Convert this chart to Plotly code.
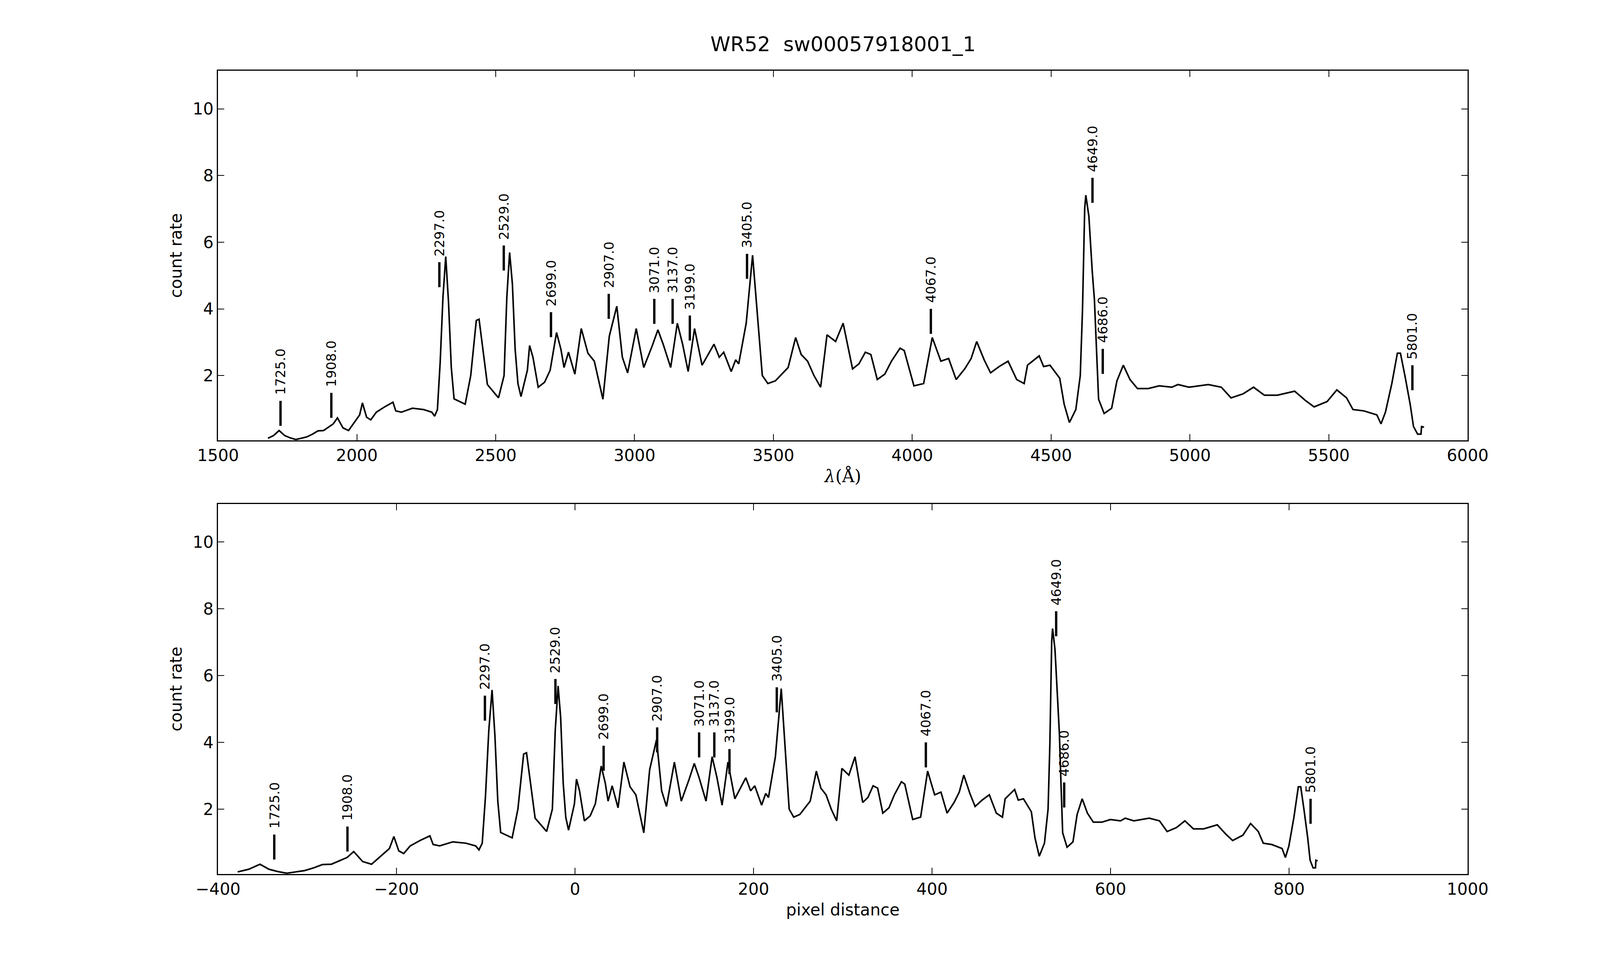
import numpy as np
import plotly.graph_objects as go
from plotly.subplots import make_subplots

# spectrum (wavelength in Angstrom, count rate)
wave = [1680, 1700, 1720, 1740, 1760, 1780, 1800, 1820, 1840, 1860, 1880, 1900, 1915, 1930, 1950,
        1970, 1990, 2010, 2020, 2035, 2050, 2070, 2100, 2130, 2140, 2160, 2200, 2240, 2270, 2280,
        2290, 2300, 2310, 2320, 2330, 2340, 2350, 2370, 2390, 2410, 2430, 2440, 2460, 2470, 2490,
        2510, 2530, 2540, 2550, 2560, 2570, 2580, 2591, 2614, 2622, 2634, 2653, 2676, 2696, 2719,
        2735, 2746, 2762, 2785, 2808, 2832, 2855, 2886, 2909, 2936, 2956, 2975, 3006, 3033, 3064,
        3084, 3103, 3130, 3154, 3173, 3193, 3216, 3243, 3274, 3286, 3305, 3321, 3348, 3364, 3375,
        3402, 3425, 3445, 3460, 3480, 3507, 3530, 3553, 3580, 3600, 3623, 3646, 3670, 3693, 3724,
        3751, 3785, 3808, 3831, 3851, 3874, 3901, 3925, 3956, 3971, 4006, 4041, 4072, 4103, 4131,
        4158, 4189, 4212, 4232, 4259, 4282, 4313, 4345, 4376, 4403, 4415, 4438, 4457, 4473, 4496,
        4531, 4547, 4566, 4589, 4605, 4613, 4621, 4625, 4636, 4648, 4656, 4664, 4671, 4691, 4718,
        4737, 4760, 4784, 4811, 4850, 4889, 4935, 4957, 4996, 5066, 5113, 5148, 5191, 5229, 5268,
        5315, 5377, 5416, 5447, 5494, 5529, 5564, 5587, 5626, 5673, 5688, 5704, 5727, 5747, 5758,
        5774, 5793, 5805, 5820, 5832, 5834, 5843]
rate = [0.12, 0.2, 0.35, 0.2, 0.13, 0.08, 0.12, 0.16, 0.24, 0.34, 0.35, 0.47, 0.55, 0.73, 0.43,
        0.35, 0.59, 0.82, 1.18, 0.75, 0.67, 0.9, 1.06, 1.2, 0.94, 0.9, 1.02, 0.98, 0.9, 0.78,
        0.98, 2.4, 4.35, 5.57, 4.2, 2.24, 1.3, 1.22, 1.14, 2.0, 3.65, 3.69, 2.4, 1.73, 1.53,
        1.33, 2.0, 4.35, 5.69, 4.75, 2.78, 1.76, 1.37, 2.16, 2.9, 2.55, 1.65, 1.8, 2.16, 3.29,
        2.78, 2.24, 2.7, 2.04, 3.41, 2.67, 2.43, 1.29, 3.18, 4.08, 2.55, 2.08, 3.41, 2.24, 2.9,
        3.37, 2.94, 2.24, 3.57, 2.94, 2.12, 3.41, 2.31, 2.78, 2.94, 2.55, 2.7, 2.12, 2.47, 2.35,
        3.57, 5.61, 3.57, 2.0, 1.76, 1.84, 2.04, 2.24, 3.14, 2.63, 2.43, 2.0, 1.65, 3.22, 3.02,
        3.57, 2.2, 2.35, 2.7, 2.63, 1.88, 2.04, 2.43, 2.82, 2.75, 1.69, 1.76, 3.14, 2.43, 2.51,
        1.88, 2.2, 2.51, 3.02, 2.47, 2.08, 2.27, 2.43, 1.88, 1.76, 2.31, 2.47, 2.59, 2.27, 2.31,
        1.92, 1.14, 0.59, 0.98, 2.0, 3.96, 7.02, 7.41, 6.78, 5.14, 4.27, 2.63, 1.29, 0.86, 1.02,
        1.84, 2.31, 1.88, 1.61, 1.61, 1.69, 1.65, 1.73, 1.65, 1.73, 1.65, 1.33, 1.45, 1.65, 1.41,
        1.41, 1.53, 1.25, 1.06, 1.22, 1.57, 1.33, 0.98, 0.94, 0.82, 0.55, 0.9, 1.76, 2.67, 2.67,
        2.0, 1.14, 0.47, 0.24, 0.24, 0.47, 0.45]

# wavelength <-> pixel-distance calibration points
calib_wave = [1680, 1720, 2020, 2320, 2550, 3425, 4072, 4625, 5758, 5843]
calib_pix = [-378, -353, -203, -93, -19, 231, 395, 535, 813, 832]

# line identifications
line_wave = [1725.0, 1908.0, 2297.0, 2529.0, 2699.0, 2907.0, 3071.0, 3137.0, 3199.0, 3405.0,
             4067.0, 4649.0, 4686.0, 5801.0]
line_pix = [-337, -255, -101, -22, 32, 92, 139, 156, 173, 226, 393, 539, 548, 824]
line_top = [1.24, 1.48, 5.4, 5.9, 3.9, 4.45, 4.3, 4.3, 3.8, 5.65, 4.0, 7.93, 2.8, 2.31]

pix = np.interp(wave, calib_wave, calib_pix)

fig = make_subplots(rows=2, cols=1, vertical_spacing=0.066)
fig.add_trace(go.Scatter(x=wave, y=rate, mode='lines', line=dict(color='black', width=4)), row=1, col=1)
fig.add_trace(go.Scatter(x=pix, y=rate, mode='lines', line=dict(color='black', width=4)), row=2, col=1)

for row, xs in [(1, line_wave), (2, line_pix)]:
    for x, top, w in zip(xs, line_top, line_wave):
        fig.add_trace(go.Scatter(x=[x, x], y=[top - 0.75, top], mode='lines',
                                 line=dict(color='black', width=6)), row=row, col=1)
        fig.add_annotation(x=x, y=top + 0.15, text=f'{w:.1f}', textangle=-90, showarrow=False,
                           xanchor='center', yanchor='bottom', font=dict(size=34, color='black'),
                           xref=f'x{row if row > 1 else ""}', yref=f'y{row if row > 1 else ""}')

axis_style = dict(showline=True, linecolor='black', linewidth=3, mirror='ticks', ticks='inside',
                  ticklen=16, tickwidth=2, tickcolor='black', showgrid=False, zeroline=False,
                  tickfont=dict(size=42, color='black'))
fig.update_xaxes(**axis_style)
fig.update_yaxes(**axis_style, range=[0.06, 11.14], tickvals=[2, 4, 6, 8, 10],
                 title=dict(text='count rate', font=dict(size=42, color='black')))
fig.update_xaxes(range=[1500, 6000], dtick=500, domain=[0.124, 0.93], row=1, col=1,
                 title=dict(text='<i>λ</i>(Å)', font=dict(size=44, family='DejaVu Serif', color='black')))
fig.update_xaxes(range=[-400, 1000], dtick=200, domain=[0.124, 0.93], row=2, col=1,
                 title=dict(text='pixel distance', font=dict(size=42, color='black')))
fig.update_yaxes(domain=[0.548, 0.93], row=1, col=1)
fig.update_yaxes(domain=[0.0995, 0.482], row=2, col=1)

fig.update_layout(
    autosize=True,
    title=dict(text='WR52  sw00057918001_1', x=0.527, xanchor='center', y=0.965,
               font=dict(size=52, color='black')),
    font=dict(family='DejaVu Sans', color='black'),
    showlegend=False,
    plot_bgcolor='white', paper_bgcolor='white',
    margin=dict(l=0, r=0, t=0, b=0)
)

fig.write_html('out.html', default_width='100%', default_height='100vh')
